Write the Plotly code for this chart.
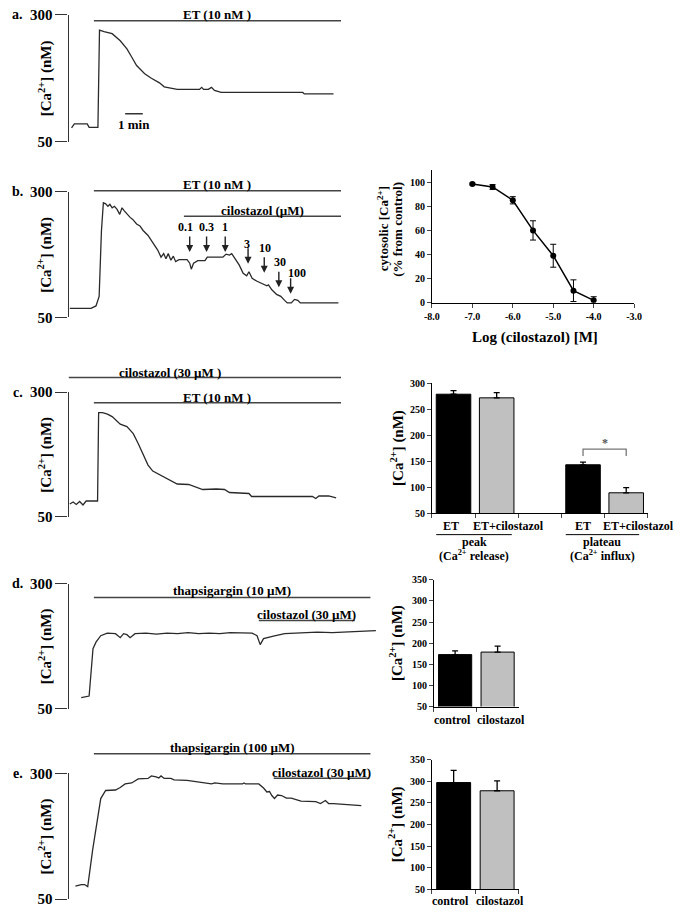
import plotly.graph_objects as go

W, H = 689, 916
FONT = "Liberation Serif"

# ---------------- data ----------------
# time in minutes, [Ca2+] in nM
a_time = [0.17, 0.33, 1.06, 1.17, 1.67, 1.76, 2.02, 2.48, 2.94, 3.32, 3.59, 3.87, 4.33, 4.71,
          5.17, 5.44, 6.18, 7.45, 7.57, 7.68, 7.95, 8.13, 8.3, 8.68, 13.32, 13.41, 15.07]
a_ca = [77, 85, 85, 78, 78, 270, 267, 263, 249, 233, 217, 200, 184, 175,
        166, 158, 153, 153, 157, 153, 153, 157, 151, 147, 147, 144, 144]

b_time = [0.07, 1.28, 1.56, 1.74, 1.87, 1.98, 2.11, 2.24, 2.35, 2.48, 2.61, 2.76, 2.91, 3.04,
          3.17, 3.32, 3.5, 3.65, 3.87, 4.06, 4.24, 4.52, 4.79, 5.07, 5.26, 5.41, 5.54, 5.67,
          5.82, 5.96, 6.09, 6.28, 6.74, 6.89, 6.98, 7.11, 7.35, 7.76, 7.89, 8.78, 8.96, 9.15,
          9.28, 9.46, 9.71, 9.93, 10.13, 10.26, 10.44, 10.72, 11.0, 11.28, 11.37, 11.56, 11.83,
          12.07, 12.29, 12.44, 12.67, 12.85, 13.04, 13.18, 15.35]
b_ca = [68, 68, 73, 92, 222, 278, 276, 271, 275, 268, 271, 265, 255, 268,
        262, 255, 249, 245, 236, 232, 223, 213, 200, 184, 170, 177, 167, 177,
        164, 172, 161, 165, 165, 158, 146, 158, 163, 163, 170, 170, 176, 174,
        177, 167, 154, 138, 133, 141, 128, 122, 117, 113, 115, 105, 96,
        92, 84, 79, 79, 86, 84, 79, 79]

b_doses = ["0.1", "0.3", "1", "3", "10", "30", "100"]
b_dose_time = [6.89, 7.85, 8.91, 10.21, 11.13, 11.96, 12.63]
b_arrow_tip = [180, 180, 180, 157, 139, 110, 97]

c_time = [0.07, 0.26, 0.44, 0.63, 0.82, 1.0, 1.65, 1.71, 1.93, 2.21, 2.48, 2.94, 3.32, 3.68,
          3.96, 4.24, 4.52, 4.79, 5.26, 5.63, 6.18, 6.83, 7.63, 8.41, 8.87, 9.15, 10.26,
          10.41, 13.87, 14.06, 14.24, 14.79, 15.22]
c_ca = [76, 80, 75, 81, 74, 82, 82, 259, 259, 256, 251, 236, 231, 217,
        197, 174, 154, 142, 133, 126, 116, 115, 105, 106, 105, 99, 97,
        91, 91, 87, 92, 92, 88]

d_time = [0.72, 1.11, 1.17, 1.39, 1.56, 1.83, 2.20, 2.67, 2.94, 3.13, 3.32, 3.5, 3.78, 4.4,
          5.0, 5.6, 6.2, 6.8, 7.4, 8.0, 8.6, 9.2, 9.8, 10.44, 10.72, 10.9, 11.09, 11.37,
          11.65, 12.29, 13.2, 14.15, 15.0, 16.0, 17.48]
d_ca = [72, 75, 75, 170, 183, 196, 201, 200, 192, 200, 198, 192, 200, 201,
        199, 201, 200, 202, 200, 201, 200, 202, 201, 201, 196, 178, 190, 193,
        195, 200, 201, 203, 202, 204, 206]

e_time = [0.39, 0.72, 0.91, 1.09, 1.37, 1.56, 1.83, 2.11, 2.67, 2.94, 3.22, 3.59, 3.96, 4.52,
          4.71, 4.98, 5.13, 5.26, 5.44, 5.82, 6.0, 6.74, 7.67, 8.13, 8.32, 8.78, 9.89, 9.98,
          10.07, 10.82, 11.09, 11.28, 11.43, 11.56, 11.71, 11.89, 12.11, 12.39, 12.67, 13.22,
          14.06, 14.33, 14.61, 14.79, 15.07, 16.28, 16.65]
e_ca = [76, 79, 79, 75, 148, 194, 250, 266, 267, 272, 279, 281, 289, 290,
        295, 293, 291, 295, 290, 290, 287, 286, 282, 279, 281, 279, 279, 281,
        279, 279, 271, 263, 264, 256, 250, 257, 256, 251, 251, 245,
        244, 240, 246, 240, 240, 238, 236]

# treatments (start / end in minutes)
a_treat_label = ["ET (10 nM )"]
a_treat_start = [1.44]
a_treat_end = [15.5]
b_treat_label = ["ET (10 nM )", "cilostazol (µM)"]
b_treat_start = [1.44, 6.56]
b_treat_end = [15.5, 15.5]
c_treat_label = ["cilostazol (30 µM )", "ET (10 nM )"]
c_treat_start = [0.0, 1.44]
c_treat_end = [15.5, 15.5]
d_treat_label = ["thapsigargin (10 µM)", "cilostazol (30 µM)"]
d_treat_start = [1.44, 10.82]
d_treat_end = [17.17, 16.28]
e_treat_label = ["thapsigargin (100 µM)", "cilostazol (30 µM)"]
e_treat_start = [1.44, 11.67]
e_treat_end = [17.17, 17.11]

# concentration-response (panel b, right)
dose_log = [-7.0, -6.5, -6.0, -5.5, -5.0, -4.5, -4.0]
dose_pct = [98.5, 96, 85, 60, 39, 10, 2]
dose_err = [0.8, 2, 3, 8, 9.5, 9, 3]
dose_xticks = [-8, -7, -6, -5, -4, -3]
dose_xticktext = ["-8.0", "-7.0", "-6.0", "-5.0", "-4.0", "-3.0"]
dose_yticks = [0, 20, 40, 60, 80, 100]

# bar chart c
c_bar_pos = [0, 1, 3, 4]
c_bar_labels = ["ET", "ET+cilostazol", "ET", "ET+cilostazol"]
c_bar_vals = [279, 272, 143, 89]
c_bar_err = [7, 10, 5, 10]
c_groups = ["peak", "plateau"]
c_group_sub = ["(Ca<sup>2+</sup> release)", "(Ca<sup>2+</sup> influx)"]

# bar charts d, e
de_cats = ["control", "cilostazol"]
d_bar_vals = [173, 179]
d_bar_err = [9, 14]
e_bar_vals = [297, 278]
e_bar_err = [28, 23]

# ---------------- helpers ----------------
def X(p):
    return p / W


def Y(p):
    return 1 - p / H


PX_PER_MIN = 18.0
X0 = 62
BLACK_GRAY = ["black", "#c0c0c0"]
LINE_C = "#2a2a2a"
YTITLE = "[Ca<sup>2+</sup>] (nM)"


def bfont(size, color="black"):
    return dict(family=FONT, size=size, color=color, weight="bold")


fig = go.Figure()
layout = dict(
    width=W, height=H, margin=dict(l=0, r=0, t=0, b=0),
    paper_bgcolor="white", plot_bgcolor="white", showlegend=False,
    font=bfont(12),
)
annotations = []
shapes = []


def note(**kw):
    d = dict(showarrow=False, xanchor="center", yanchor="middle")
    d.update(kw)
    annotations.append(d)


def names(i):
    s = "" if i == 1 else str(i)
    return "x" + s, "y" + s, "xaxis" + s, "yaxis" + s


# ---------------- trace panels ----------------
trace_panels = [
    # idx, letter, time, ca, y_top, y_bot, x_right, treat, line_y, text_y, label_x_px
    (1, "a.", a_time, a_ca, 7, 136, 341,
     (a_treat_label, a_treat_start, a_treat_end), [13], [7], [None]),
    (2, "b.", b_time, b_ca, 187, 315, 341,
     (b_treat_label, b_treat_start, b_treat_end), [186, 212], [180, 206], [None, None]),
    (4, "c.", c_time, c_ca, 391, 518, 341,
     (c_treat_label, c_treat_start, c_treat_end), [376, 401.7], [370.5, 396], [166, None]),
    (6, "d.", d_time, d_ca, 586, 713, 377,
     (d_treat_label, d_treat_start, d_treat_end), [600, 623.5], [593, 617.5], [None, None]),
    (8, "e.", e_time, e_ca, 779, 907, 377,
     (e_treat_label, e_treat_start, e_treat_end), [759, 784], [752.5, 778], [None, None]),
]

for idx, letter, t, ca, yt, yb, xr, treat, line_ys, text_ys, lab_px in trace_panels:
    xn, yn, xk, yk = names(idx)
    xmax = (xr - X0) / PX_PER_MIN
    layout[xk] = dict(domain=[X(X0), X(xr)], range=[0, xmax], visible=False,
                      anchor=yn, fixedrange=True)
    layout[yk] = dict(domain=[Y(yb), Y(yt)], range=[50, 300], tickvals=[50, 300],
                      ticks="outside", ticklen=12, tickwidth=1.3, tickcolor="#333",
                      showline=True, linecolor="#333", linewidth=1.3,
                      showgrid=False, zeroline=False, anchor=xn,
                      tickfont=bfont(15), fixedrange=True)
    fig.add_trace(go.Scatter(x=t, y=ca, mode="lines", xaxis=xn, yaxis=yn,
                             line=dict(color=LINE_C, width=1.3), hoverinfo="skip"))
    labels, starts, ends = treat
    for lab, s, e, ly, ty, lp in zip(labels, starts, ends, line_ys, text_ys, lab_px):
        shapes.append(dict(type="line", xref=xn, yref="paper", x0=s, x1=e,
                           y0=Y(ly), y1=Y(ly), line=dict(color="#444", width=1.5)))
        lx = (s + e) / 2 if lp is None else (lp - X0) / PX_PER_MIN
        note(x=lx, y=Y(ty), xref=xn, yref="paper", text=lab, font=bfont(13))
    note(x=X(38), y=Y((yt + yb) / 2), xref="paper", yref="paper",
         text=YTITLE, textangle=-90, font=bfont(15))
    note(x=X(10), y=Y(yt), xref="paper", yref="paper", text=letter, font=bfont(14))

# 1 min scale bar (panel a)
shapes.append(dict(type="line", xref="x", yref="y", x0=3.22, x1=3.22 + 1.0,
                   y0=105, y1=105, line=dict(color="#333", width=1.5)))
note(x=3.72, y=105, xref="x", yref="y", yshift=-11, text="1 min", font=bfont(13))

# dose arrows (panel b)
lab_yshift = [25, 25, 25, 20, 25, 25, 21]
lab_xshift = [-4.5, 0, -0.5, -1.5, 1, 1, 6]
for lab, tt, tip, ys, xs in zip(b_doses, b_dose_time, b_arrow_tip, lab_yshift, lab_xshift):
    annotations.append(dict(x=tt, y=tip, xref="x2", yref="y2", text="", showarrow=True,
                            ax=0, ay=-17, arrowhead=2, arrowsize=1, arrowwidth=1.4,
                            arrowcolor="#222"))
    note(x=tt, y=tip, xref="x2", yref="y2", text=lab, yshift=ys, xshift=xs, font=bfont(12))

# ---------------- concentration-response ----------------
layout["xaxis3"] = dict(domain=[X(434), X(641)], range=[-8, -3], tickvals=dose_xticks,
                        ticktext=dose_xticktext, ticks="outside", ticklen=4,
                        showline=True, linecolor="black", linewidth=1, showgrid=False,
                        zeroline=False, anchor="y3", tickfont=bfont(10), fixedrange=True)
layout["yaxis3"] = dict(domain=[Y(300), Y(165)], range=[0, 110], tickvals=dose_yticks,
                        ticks="outside", ticklen=4, showline=True, linecolor="black",
                        linewidth=1, showgrid=False, zeroline=False, anchor="x3",
                        tickfont=bfont(10), fixedrange=True)
fig.add_trace(go.Scatter(x=dose_log, y=dose_pct, mode="lines+markers", xaxis="x3", yaxis="y3",
                         line=dict(color="black", width=1.5),
                         marker=dict(color="black", size=6),
                         error_y=dict(type="data", array=dose_err, color="black",
                                      thickness=1, width=3)))
note(x=X(384), y=Y(225), xref="paper", yref="paper",
     text="cytosolic [Ca<sup>2+</sup>]", textangle=-90, font=bfont(13))
note(x=X(398), y=Y(225), xref="paper", yref="paper",
     text="(% from control)", textangle=-90, font=bfont(13))
note(x=X(540), y=Y(335), xref="paper", yref="paper",
     text="Log (cilostazol) [M]", font=bfont(15))

# ---------------- bar chart c ----------------
layout["xaxis5"] = dict(domain=[X(434), X(655)], range=[-0.5, 4.5],
                        tickvals=[-0.5, 0.5, 1.5, 2.5, 3.5, 4.5], showticklabels=False,
                        ticks="outside", ticklen=4, showline=True, linecolor="black",
                        showgrid=False, zeroline=False, anchor="y5", fixedrange=True)
layout["yaxis5"] = dict(domain=[Y(514), Y(382)], range=[50, 300],
                        tickvals=[50, 100, 150, 200, 250, 300], ticks="outside", ticklen=4,
                        showline=True, linecolor="black", showgrid=False, zeroline=False,
                        anchor="x5", tickfont=bfont(10), fixedrange=True)
fig.add_trace(go.Bar(x=c_bar_pos, y=c_bar_vals, xaxis="x5", yaxis="y5", width=0.8,
                     marker=dict(color=BLACK_GRAY * 2, line=dict(color="black", width=1)),
                     error_y=dict(type="data", array=c_bar_err, arrayminus=[0] * 4,
                                  symmetric=False, color="black", thickness=1.3, width=3)))
lab_xs = [-3, 12, 0, 12]
for p, lab, xs in zip(c_bar_pos, c_bar_labels, lab_xs):
    note(x=p, y=Y(527), xref="x5", yref="paper", text=lab, xshift=xs, font=bfont(12))
group_spans = [(-0.4, 1.35), (2.6, 4.3)]
for (g0, g1), g, sub in zip(group_spans, c_groups, c_group_sub):
    shapes.append(dict(type="line", xref="x5", yref="paper", x0=g0, x1=g1,
                       y0=Y(536), y1=Y(536), line=dict(color="black", width=1)))
    note(x=(g0 + g1) / 2, y=Y(544), xref="x5", yref="paper", text=g, font=bfont(12))
    note(x=(g0 + g1) / 2, y=Y(557), xref="x5", yref="paper", text=sub, font=bfont(12))
# significance bracket
b0, b1 = c_bar_pos[2], c_bar_pos[3]
shapes.append(dict(type="path", xref="x5", yref="y5",
                   path=f"M {b0},160 L {b0},173 L {b1},173 L {b1},160",
                   line=dict(color="#777", width=1.3)))
note(x=(b0 + b1) / 2, y=173, xref="x5", yref="y5", text="*", yshift=6,
     font=bfont(12, "#555"))
note(x=X(398), y=Y(448), xref="paper", yref="paper", text=YTITLE,
     textangle=-90, font=bfont(15))

# ---------------- bar charts d, e ----------------
for idx, vals, errs, dx, dy, lab_y in [(7, d_bar_vals, d_bar_err, (436, 523), (711, 582), 725),
                                       (9, e_bar_vals, e_bar_err, (434, 523), (897, 765), 909)]:
    xn, yn, xk, yk = names(idx)
    layout[xk] = dict(domain=[X(dx[0]), X(dx[1])], type="category", categoryorder="array",
                      categoryarray=de_cats, range=[-0.5, len(de_cats) - 0.5],
                      ticks="outside", tickson="boundaries",
                      ticklen=4, showline=True, linecolor="black", showgrid=False,
                      zeroline=False, anchor=yn, showticklabels=False, fixedrange=True)
    layout[yk] = dict(domain=[Y(dy[0]), Y(dy[1])], range=[50, 350],
                      tickvals=[50, 100, 150, 200, 250, 300, 350], ticks="outside",
                      ticklen=4, showline=True, linecolor="black", showgrid=False,
                      zeroline=False, anchor=xn, tickfont=bfont(10), fixedrange=True)
    fig.add_trace(go.Bar(x=de_cats, y=vals, xaxis=xn, yaxis=yn, width=0.78,
                         marker=dict(color=BLACK_GRAY, line=dict(color="black", width=1)),
                         error_y=dict(type="data", array=errs, arrayminus=[0, 0],
                                      symmetric=False, color="black", thickness=1.3,
                                      width=3)))
    for cat, xs in zip(de_cats, [-3, 3]):
        note(x=cat, y=Y(lab_y), xref=xn, yref="paper", text=cat, xshift=xs, font=bfont(12))
    note(x=X(397), y=Y((dy[0] + dy[1]) / 2), xref="paper", yref="paper",
         text=YTITLE, textangle=-90, font=bfont(15))

layout["annotations"] = annotations
layout["shapes"] = shapes
fig.update_layout(**layout)
fig.write_html("out.html",
               config={"displayModeBar": False},
               post_script="document.body.style.margin='0px';"
                           "document.body.style.overflow='hidden';")
